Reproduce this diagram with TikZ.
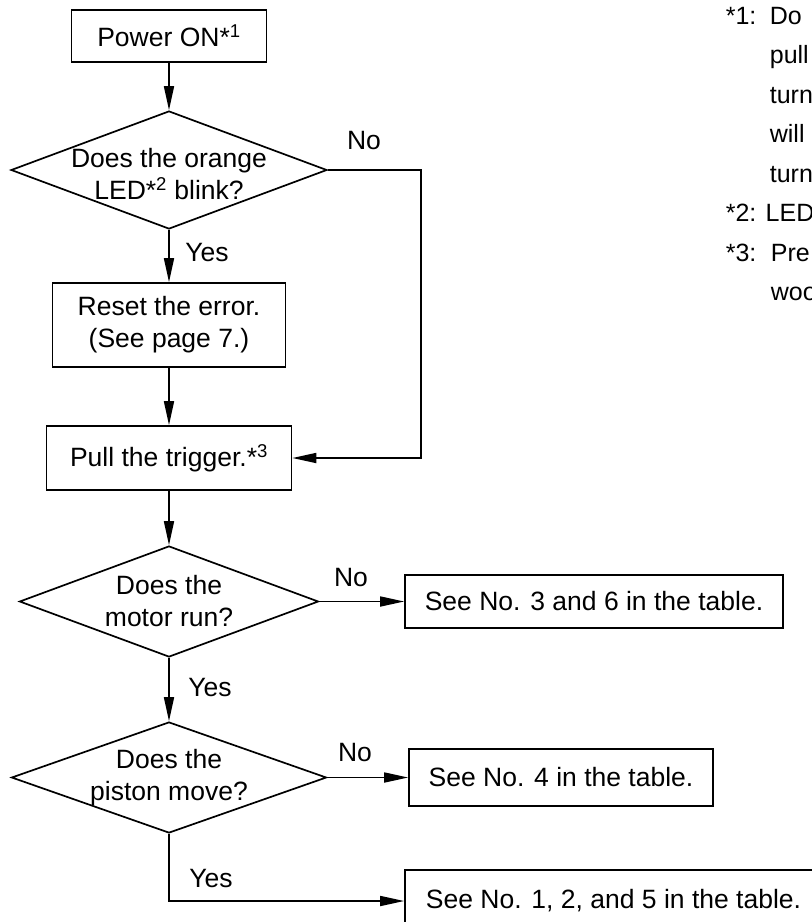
\documentclass[tikz,border=0pt]{standalone}
\usepackage{fontspec}
\setmainfont{Liberation Sans}
\usetikzlibrary{shapes.geometric,arrows.meta}

\begin{document}
\begin{tikzpicture}[x=1pt,y=-1pt,
            font=\fontsize{26.5}{32}\selectfont,
            line width=1.7pt,
            >={Triangle[length=24pt,width=10pt]},
            box/.style={shape=rectangle, draw, align=center, inner sep=0pt},
            decision/.style={shape=diamond, draw, inner sep=0pt},
            tag/.style={inner sep=0pt},
            note/.style={anchor=base west, inner sep=0pt, font=\fontsize{25}{30}\selectfont}]
				\useasboundingbox (0,0) rectangle (812,922);
				\clip (0,0) rectangle (812,922);

				\node[box, minimum width=195pt, minimum height=52pt] (power) at (169,36) {Power ON*\textsuperscript{1}};
				\node[decision, minimum width=316pt, minimum height=118pt,
				      label={[align=center,yshift=-4pt]center:Does the orange\\LED*\textsuperscript{2} blink?}] (blink) at (169,170) {};
				\node[box, minimum width=233pt, minimum height=84pt] (reset) at (169,325) {Reset the error.\\(See page 7.)};
				\node[box, minimum width=245pt, minimum height=64pt] (trigger) at (169,458) {Pull the trigger.*\textsuperscript{3}};
				\node[decision, minimum width=299pt, minimum height=111pt,
				      label={[align=center]center:Does the\\motor run?}] (motor) at (169,601.5) {};
				\node[decision, minimum width=315pt, minimum height=111pt,
				      label={[align=center]center:Does the\\piston move?}] (piston) at (169,777.5) {};

				\node[box, minimum width=378pt, minimum height=53pt] (table36) at (594,601.5) {See No. 3 and 6 in the table.};
				\node[box, minimum width=304pt, minimum height=57pt] (table4) at (561,777.5) {See No. 4 in the table.};
				\node[box, minimum width=417pt, minimum height=62pt] (table125) at (613.5,901) {See No. 1, 2, and 5 in the table.};

				\draw[->] (power) -- (blink);
				\draw[->] (blink) -- (reset);
				\draw[->] (reset) -- (trigger);
				\draw[->] (blink.east) -- ++(93,0) |- (trigger.east);
				\draw[->] (trigger) -- (motor);
				\draw[->] (motor) -- (piston);
				\draw[->] (motor.east) -- (table36.west);
				\draw[->] (piston.east) -- (table4.west);
				\draw[->] (piston.south) |- (table125.west);

				\node[tag] (yes1) at (207,253) {Yes};
				\node[tag] (no1) at (364,141) {No};
				\node[tag] (no2) at (351,578) {No};
				\node[tag] (yes2) at (210,688) {Yes};
				\node[tag] (no3) at (355,753) {No};
				\node[tag] (yes3) at (211,879) {Yes};

				\node[note] (n1) at (725,24) {*1:};
				\node[note] (n1a) at (769,24) {Do};
				\node[note] (n1b) at (769,63.5) {pull};
				\node[note] (n1c) at (769,103) {turn};
				\node[note] (n1d) at (769,142.5) {will};
				\node[note] (n1e) at (769,182) {turn};
				\node[note] (n2) at (725,221.5) {*2: LED};
				\node[note] (n3) at (725,261) {*3:};
				\node[note] (n3a) at (770,261) {Pre};
				\node[note] (n3b) at (770,300.5) {woo};
 		\end{tikzpicture}
\end{document}
